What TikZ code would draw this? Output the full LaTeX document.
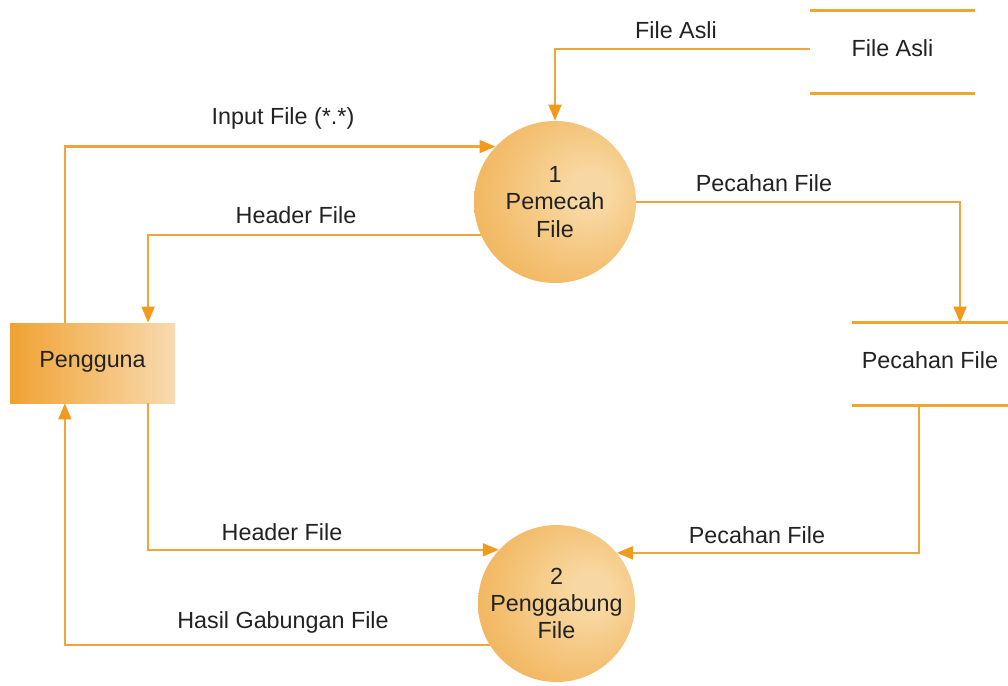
\documentclass[tikz,border=0pt]{standalone}
\usepackage{fontspec}
\setmainfont{Liberation Sans}
\usetikzlibrary{arrows.meta,calc}
\definecolor{flowc}{HTML}{F0A53C}
\definecolor{tipc}{HTML}{F29A1C}
\definecolor{storec}{HTML}{F0A52E}
\definecolor{orbhi}{HTML}{F8D8A2}
\definecolor{orbmid}{HTML}{F3BE6E}
\definecolor{orbout}{HTML}{EEA136}
\definecolor{entl}{HTML}{F0A232}
\definecolor{entm}{HTML}{F3BA66}
\definecolor{entr}{HTML}{F8DAB0}
\definecolor{txt}{HTML}{222222}
\pgfdeclareradialshading{orb}{\pgfqpoint{12bp}{4bp}}{color(0bp)=(orbhi); color(6bp)=(orbhi); color(26bp)=(orbmid); color(50bp)=(orbout); color(70bp)=(orbout)}
\begin{document}
\begin{tikzpicture}[x=0.75pt,y=-0.75pt,
  every node/.style={font=\fontsize{17.5pt}{20.5pt}\selectfont, text=txt},
  lbl/.style={inner sep=0pt, text height=0.716em, text depth=0pt},
  proc/.style={circle, shading=orb, draw=none, align=center, inner sep=0pt},
  ent/.style={rectangle, lbl, left color=entl, middle color=entm, right color=entr, minimum width=123.75pt, minimum height=60pt},
  storebox/.style={lbl, rectangle},
  flow/.style={draw=flowc, line width=1.8pt, -{Triangle[length=12pt,width=9.5pt,color=tipc]}},
  storeline/.style={draw=storec, line width=2.4pt}
]
\useasboundingbox (0,0) rectangle (1008,686);

% processes
\node[proc, minimum size=121.5pt] (p1) at (555,202) {1\\Pemecah\\File};
\node[proc, minimum size=117.75pt] (p2) at (556.5,603.5) {2\\Penggabung\\File};

% external entity
\node[ent] (g) at (92.5,363) {Pengguna};

% data stores
\node[storebox, minimum width=123.75pt, minimum height=61.5pt] (fa) at (892.5,52) {File Asli};
\draw[storeline] (fa.north west) -- (fa.north east);
\draw[storeline] (fa.south west) -- (fa.south east);
\node[storebox, minimum width=117pt, minimum height=61.5pt] (ps) at (930,364) {Pecahan File};
\draw[storeline] (ps.north west) -- (ps.north east);
\draw[storeline] (ps.south west) -- (ps.south east);

% helper coordinates on borders
\coordinate (gu1) at ($(g.north west)!0.333!(g.north east)$);
\coordinate (gu2) at ($(g.north west)!0.836!(g.north east)$);
\coordinate (gd1) at ($(g.south west)!0.333!(g.south east)$);
\coordinate (gd2) at ($(g.south west)!0.836!(g.south east)$);
\coordinate (ps1) at ($(ps.north west)!0.692!(ps.north east)$);
\coordinate (ps2) at ($(ps.south west)!0.43!(ps.south east)$);

% flows
\draw[flow] ([yshift=2.25pt]fa.west) -| (p1.north);
\draw[flow] (gu1) |- (p1.137);
\draw[flow] (p1.204) -| (gu2);
\draw[flow] (p1.east) -| (ps1);
\draw[flow] (ps2) |- (p2.40);
\draw[flow] (gd2) |- (p2.137);
\draw[flow] (p2.212) -| (gd1);

% flow labels
\node[lbl] (lFA) at (676,33.5) {File Asli};
\node[lbl] (lIn) at (283,120) {Input File (*.*)};
\node[lbl] (lH1) at (296,218.5) {Header File};
\node[lbl] (lP1) at (764,186.5) {Pecahan File};
\node[lbl] (lP2) at (757,538.5) {Pecahan File};
\node[lbl] (lH2) at (282,535.5) {Header File};
\node[lbl] (lHa) at (283,623.5) {Hasil Gabungan File};
\end{tikzpicture}
\end{document}
